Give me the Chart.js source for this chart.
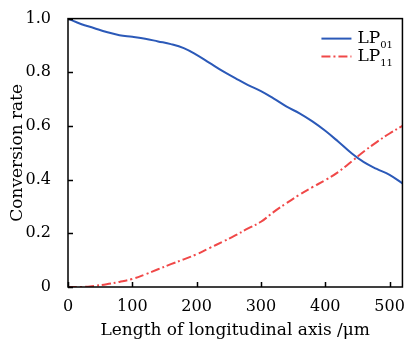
<!DOCTYPE html>
<html>
<head>
<meta charset="utf-8">
<script src="https://cdn.jsdelivr.net/npm/chart.js@4.4.1/dist/chart.umd.min.js"></script>
<style>
  html, body { margin: 0; padding: 0; background: #fff; }
  #wrap { width: 407px; height: 342px; }
</style>
</head>
<body>
<div id="wrap"><canvas id="chart" width="407" height="342"></canvas></div>
<script>
// longitudinal position (um)
const lengths = [0, 20, 40, 60, 80, 100, 120, 140, 160, 180, 200, 220, 240, 260, 280, 300,
                 320, 340, 360, 380, 400, 420, 440, 460, 480, 500, 520];
// LP01 conversion
const lp01 = [1.0, 0.98, 0.965, 0.95, 0.938, 0.932, 0.925, 0.915, 0.905, 0.89, 0.865, 0.835,
              0.805, 0.778, 0.752, 0.73, 0.702, 0.672, 0.647, 0.617, 0.582, 0.542, 0.5, 0.465,
              0.44, 0.418, 0.386];
// LP11 conversion
const lp11 = [0, 0, 0.004, 0.01, 0.019, 0.03, 0.047, 0.066, 0.085, 0.103, 0.122, 0.145,
              0.168, 0.192, 0.218, 0.243, 0.28, 0.313, 0.344, 0.372, 0.398, 0.428, 0.466,
              0.505, 0.54, 0.572, 0.6];
const seriesNames = [['LP', '01'], ['LP', '11']];
const xTicks = [0, 100, 200, 300, 400, 500];
const yTicks = [0, 0.2, 0.4, 0.6, 0.8, 1.0];

const FONT = '"DejaVu Serif", serif';
const toPts = arr => arr.map((v, i) => ({ x: lengths[i], y: v }));

// frame, inward ticks and the legend with subscripts
const framePlugin = {
    id: 'frame',
    afterDraw(chart) {
        const { ctx, chartArea: a, scales } = chart;
        ctx.save();
        ctx.strokeStyle = '#000';
        ctx.lineWidth = 1.5;
        ctx.strokeRect(a.left, a.top, a.right - a.left, a.bottom - a.top);
        ctx.beginPath();
        xTicks.forEach(t => {
            const px = Math.round(scales.x.getPixelForValue(t)) + 0.5;
            ctx.moveTo(px, a.bottom);
            ctx.lineTo(px, a.bottom - 5);
        });
        yTicks.forEach(t => {
            const py = Math.round(scales.y.getPixelForValue(t)) + 0.5;
            ctx.moveTo(a.left, py);
            ctx.lineTo(a.left + 5, py);
        });
        ctx.stroke();

        // legend
        chart.data.datasets.forEach((ds, i) => {
            const y = a.top + 20 + i * 18;
            const x0 = a.right - 81;
            ctx.beginPath();
            ctx.strokeStyle = ds.borderColor;
            ctx.lineWidth = 2;
            ctx.setLineDash(ds.borderDash || []);
            ctx.moveTo(x0, y);
            ctx.lineTo(x0 + 30, y);
            ctx.stroke();
            ctx.setLineDash([]);
            ctx.fillStyle = '#000';
            ctx.textBaseline = 'middle';
            ctx.font = '17px ' + FONT;
            ctx.fillText(seriesNames[i][0], x0 + 36, y);
            const w = ctx.measureText(seriesNames[i][0]).width;
            ctx.font = '10px ' + FONT;
            ctx.fillText(seriesNames[i][1], x0 + 36 + w, y + 7);
        });
        ctx.restore();
    }
};

new Chart(document.getElementById('chart'), {
    type: 'line',
    data: {
        datasets: [{
            data: toPts(lp01),
            borderColor: '#2b59b8',
            borderWidth: 2,
            pointRadius: 0,
            tension: 0.4,
            fill: false
        }, {
            data: toPts(lp11),
            borderColor: '#f04848',
            borderWidth: 2,
            borderDash: [9, 3, 2, 3],
            pointRadius: 0,
            tension: 0.4,
            fill: false
        }]
    },
    options: {
        responsive: false,
        animation: false,
        layout: { padding: { left: 0, top: 15, right: 4, bottom: 1 } },
        plugins: { legend: { display: false }, tooltip: { enabled: false } },
        scales: {
            x: {
                type: 'linear',
                min: 0,
                max: 520,
                afterBuildTicks: s => { s.ticks = xTicks.map(v => ({ value: v })); },
                grid: { display: false },
                border: { display: false },
                ticks: { color: '#000', font: { family: FONT, size: 16 }, padding: 2, maxRotation: 0 },
                title: { display: true, text: 'Length of longitudinal axis /μm', color: '#000',
                         font: { family: FONT, size: 17 }, padding: { top: 0, bottom: 0 } },
                afterFit: s => { s.height = 54; }
            },
            y: {
                min: 0,
                max: 1,
                afterBuildTicks: s => { s.ticks = yTicks.map(v => ({ value: v })); },
                grid: { display: false },
                border: { display: false },
                ticks: { color: '#000', font: { family: FONT, size: 16 }, padding: 9,
                         callback: v => v === 0 ? '0' : v.toFixed(1) },
                title: { display: true, text: 'Conversion rate', color: '#000',
                         font: { family: FONT, size: 17 }, padding: { top: 7, bottom: 0 } },
                afterFit: s => { s.width = 68; }
            }
        }
    },
    plugins: [framePlugin]
});
</script>
</body>
</html>
